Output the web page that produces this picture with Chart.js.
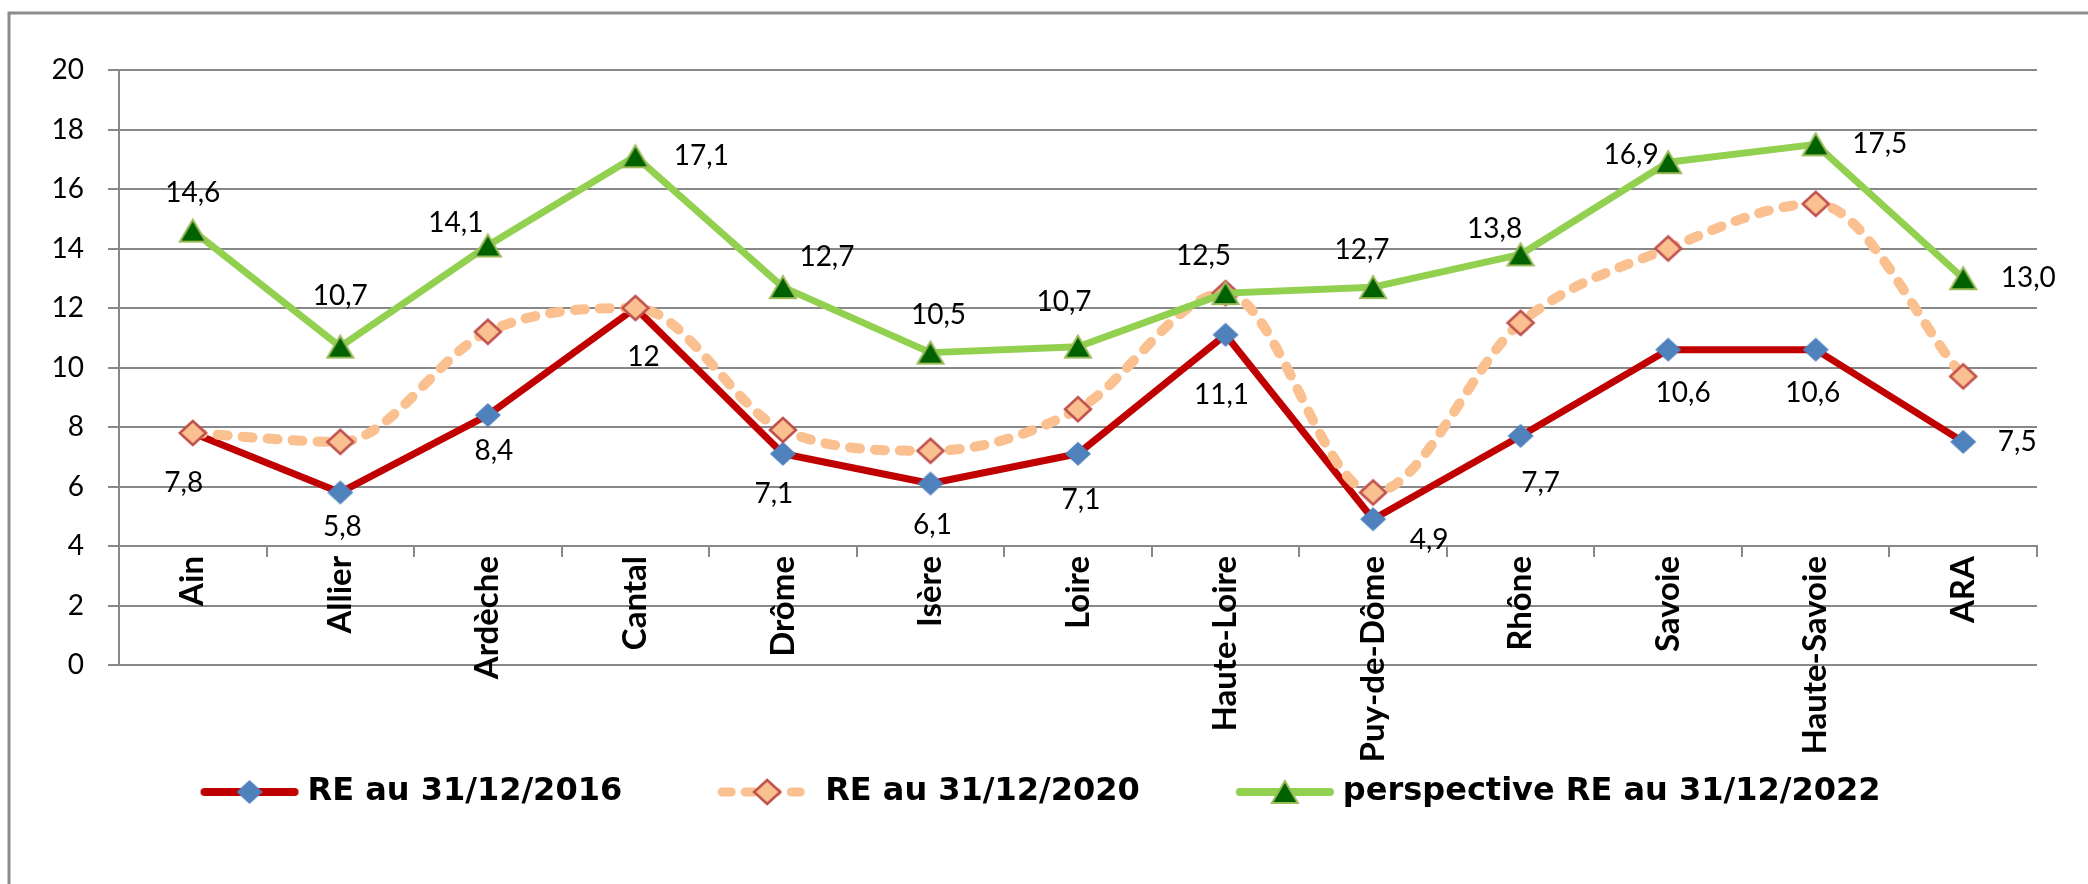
<!DOCTYPE html>
<html>
<head>
<meta charset="utf-8">
<script src="https://cdn.jsdelivr.net/npm/chart.js@4.4.1/dist/chart.umd.min.js"></script>
<style>
  html, body { margin: 0; padding: 0; background: #fff; }
  canvas { display: block; }
</style>
</head>
<body>
<canvas id="reChart" width="2088" height="884"></canvas>
<script>
// data
const departements = ['Ain', 'Allier', 'Ardèche', 'Cantal', 'Drôme', 'Isère', 'Loire', 'Haute-Loire', 'Puy-de-Dôme', 'Rhône', 'Savoie', 'Haute-Savoie', 'ARA'];
const re2016 = [7.8, 5.8, 8.4, 12, 7.1, 6.1, 7.1, 11.1, 4.9, 7.7, 10.6, 10.6, 7.5];
const re2020 = [7.8, 7.5, 11.2, 12, 7.9, 7.2, 8.6, 12.5, 5.8, 11.5, 14.0, 15.5, 9.7];
const re2022 = [14.6, 10.7, 14.1, 17.1, 12.7, 10.5, 10.7, 12.5, 12.7, 13.8, 16.9, 17.5, 13.0];
const yTicks = [0, 2, 4, 6, 8, 10, 12, 14, 16, 18, 20];
const seriesNames = ['RE au 31/12/2016', 'RE au 31/12/2020', 'perspective RE au 31/12/2022'];

// where each value label sits relative to its point, in px
const labelShift2016 = [[-9, 50], [2, 35], [6, 36], [8, 49], [-9, 40], [2, 41], [3, 46], [-4, 60], [56, 21], [20, 47], [15, 43], [-3, 43], [54, 0]];
const labelShift2022 = [[0, -38], [0, -51], [-32, -23], [66, 0], [44, -30], [8, -38], [-14, -45], [-22, -37], [-11, -37], [-26, -25], [-37, -7], [64, 0], [65, 0]];

const GRID = '#888888';

function diamond(fill, stroke, lw) {
  const c = document.createElement('canvas');
  c.width = 32; c.height = 30;
  const g = c.getContext('2d');
  g.translate(16, 15);
  g.beginPath();
  g.moveTo(0, -12); g.lineTo(13, 0); g.lineTo(0, 12); g.lineTo(-13, 0);
  g.closePath();
  g.fillStyle = fill; g.fill();
  if (lw) { g.lineWidth = lw; g.strokeStyle = stroke; g.stroke(); }
  return c;
}

function triangle(fill, stroke) {
  const c = document.createElement('canvas');
  c.width = 32; c.height = 28;
  const g = c.getContext('2d');
  g.translate(16, 14);
  g.beginPath();
  g.moveTo(0, -11); g.lineTo(13, 11); g.lineTo(-13, 11);
  g.closePath();
  g.fillStyle = fill; g.fill();
  g.lineWidth = 2; g.strokeStyle = stroke; g.stroke();
  return c;
}

function legendSymbol(color, width, dash, marker) {
  const c = document.createElement('canvas');
  c.width = 100; c.height = 32;
  const g = c.getContext('2d');
  g.strokeStyle = color; g.lineWidth = width; g.lineCap = 'round';
  g.setLineDash(dash);
  g.beginPath(); g.moveTo(5, 16); g.lineTo(95, 16); g.stroke();
  g.drawImage(marker, 50 - marker.width / 2, 16 - marker.height / 2);
  return c;
}

const mark2016 = diamond('#4f81bd', null, 0);
const mark2020 = diamond('#fac090', '#c0504d', 2.5);
const mark2022 = triangle('#006100', '#9bbb59');
const legendSymbols = [
  legendSymbol('#c00000', 8, [], mark2016),
  legendSymbol('#fac090', 9, [9, 14], mark2020),
  legendSymbol('#92d050', 8, [], mark2022)
];

const framePlugin = {
  id: 'frame',
  beforeDraw(chart) {
    const g = chart.ctx;
    g.save();
    g.fillStyle = '#fff';
    g.fillRect(0, 0, chart.width, chart.height);
    g.strokeStyle = '#8c8c8c';
    g.lineWidth = 3;
    g.beginPath();
    g.moveTo(9, chart.height); g.lineTo(9, 13); g.lineTo(chart.width, 13);
    g.stroke();
    g.restore();
  }
};

// value labels for the 2016 and 2022 series
const valueLabels = {
  id: 'valueLabels',
  afterDatasetsDraw(chart) {
    const g = chart.ctx;
    g.save();
    g.font = '28px Lato';
    g.fillStyle = '#000';
    g.textAlign = 'center';
    g.textBaseline = 'middle';
    const sets = [
      { idx: 0, shift: labelShift2016, fmt: v => String(v).replace('.', ',') },
      { idx: 2, shift: labelShift2022, fmt: v => v.toFixed(1).replace('.', ',') }
    ];
    sets.forEach(s => {
      const meta = chart.getDatasetMeta(s.idx);
      const values = chart.data.datasets[s.idx].data;
      meta.data.forEach((pt, i) => {
        g.fillText(s.fmt(values[i]), pt.x + s.shift[i][0], pt.y + s.shift[i][1]);
      });
    });
    g.restore();
  }
};

new Chart(document.getElementById('reChart'), {
  type: 'line',
  data: {
    labels: departements,
    datasets: [
      {
        label: seriesNames[0], data: re2016,
        borderColor: '#c00000', borderWidth: 7, borderJoinStyle: 'round',
        tension: 0, pointStyle: mark2016, pointRadius: 12, order: 3
      },
      {
        label: seriesNames[1], data: re2020,
        borderColor: '#fac090', borderWidth: 10, borderDash: [10, 15], borderCapStyle: 'round',
        cubicInterpolationMode: 'monotone', pointStyle: mark2020, pointRadius: 12, order: 2
      },
      {
        label: seriesNames[2], data: re2022,
        borderColor: '#92d050', borderWidth: 7, borderJoinStyle: 'round',
        tension: 0, pointStyle: mark2022, pointRadius: 13, order: 1
      }
    ]
  },
  options: {
    responsive: false,
    devicePixelRatio: 1,
    animation: false,
    layout: { padding: { top: 70, right: 51, bottom: 66, left: 51 } },
    plugins: {
      tooltip: { enabled: false },
      legend: {
        position: 'bottom',
        title: { display: true, text: '', padding: 0, font: { size: 8, lineHeight: 1 } },
        labels: {
          usePointStyle: true,
          pointStyleWidth: 84,
          padding: 103,
          color: '#000',
          font: { family: 'DejaVu Sans', size: 32, weight: 'bold' },
          generateLabels: chart => chart.data.datasets.map((ds, i) => ({
            text: ds.label,
            pointStyle: legendSymbols[i],
            fillStyle: 'transparent',
            strokeStyle: 'transparent',
            lineWidth: 0,
            fontColor: '#000',
            hidden: false,
            datasetIndex: i
          }))
        }
      }
    },
    scales: {
      x: {
        type: 'category',
        position: { y: 4 },
        offset: true,
        grid: { offset: true, drawOnChartArea: false, drawTicks: true, tickLength: 10, color: GRID, lineWidth: 2 },
        border: { display: true, color: GRID, width: 2 },
        ticks: {
          autoSkip: false, minRotation: 90, maxRotation: 90, padding: 0,
          color: '#000', font: { family: 'Lato', size: 33, weight: 'bold' }
        }
      },
      y: {
        min: yTicks[0],
        max: yTicks[yTicks.length - 1],
        ticks: { stepSize: yTicks[1] - yTicks[0], padding: 24, color: '#000', font: { family: 'Lato', size: 28 } },
        grid: { color: GRID, lineWidth: 2, tickLength: 11, drawTicks: true },
        border: { display: true, color: GRID, width: 2 },
        afterFit: s => { s.width = 68; }
      }
    }
  },
  plugins: [framePlugin, valueLabels]
});
</script>
</body>
</html>
